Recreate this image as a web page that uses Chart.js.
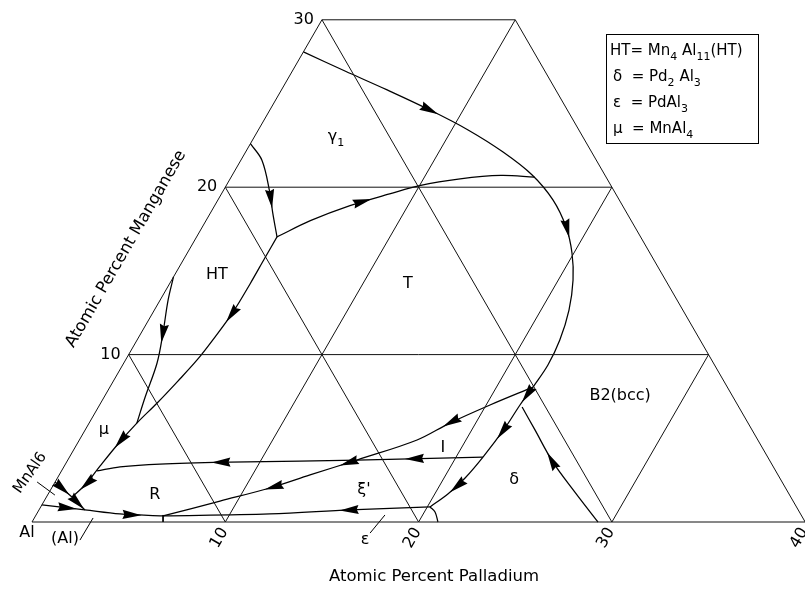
<!DOCTYPE html>
<html>
<head>
<meta charset="utf-8">
<script src="https://cdn.jsdelivr.net/npm/chart.js@4.4.1/dist/chart.umd.min.js"></script>
<style>
  html, body { margin: 0; padding: 0; background: #fff; }
  #wrap { width: 805px; height: 589px; }
</style>
</head>
<body>
<div id="wrap"><canvas id="chart" width="805" height="589"></canvas></div>
<script>
// all points are ternary [Pd, Mn] in at.%, Al is the balance
const pdTicks = [10, 20, 30, 40];
const mnTicks = [10, 20, 30];

// liquidus valleys, each listed in the direction its arrows point
const curveTop = [[0, 28.08], [2.72, 26.94], [5.47, 25.81], [8.28, 24.61], [10.85, 23.42], [13.32, 22.1], [15.51, 20.73], [17.33, 19.24], [18.82, 17.62], [19.9, 16.07], [20.76, 14.46], [21.45, 12.66], [21.87, 10.87], [22.0, 9.38], [21.89, 8.06]];
const curveGamma = [[0, 22.6], [1.1, 21.6], [2.45, 19.7], [3.2, 18.5], [4.16, 17.03]];
const curveHTup = [[4.16, 17.03], [5.4, 18.0], [7.0, 18.9], [8.7, 19.6], [10.0, 20.1], [11.9, 20.5], [13.9, 20.7], [15.7, 20.6]];
const curveHTdown = [[4.16, 17.03], [4.16, 15.77], [4.17, 14.22], [4.13, 12.54], [3.94, 11.05], [3.7, 9.68], [3.32, 8.36], [2.92, 7.11], [2.47, 5.91], [2.12, 4.66], [1.85, 3.35], [1.66, 2.27], [1.32, 1.49]];
const curveMu = [[0, 14.64], [0.41, 13.26], [1.13, 11.29], [1.72, 9.5], [2.12, 7.47], [2.47, 5.91]];
const curveMnAl6 = [[0, 2.39], [1.32, 1.49]];
const curveP1 = [[1.32, 1.49], [2.38, 0.72]];
const curveAl = [[0, 1.02], [2.38, 0.72]];
const curveE1 = [[2.38, 0.72], [4.31, 0.48], [6.6, 0.36]];
const curveR = [[14.96, 3.7], [12.04, 3.64], [8.45, 3.58], [4.89, 3.46], [2.91, 3.29], [1.84, 3.05]];
const curveDelta = [[21.89, 8.06], [21.75, 6.99], [21.66, 5.62], [21.39, 3.88], [21.09, 2.63], [20.68, 1.67], [20.14, 0.9]];
const curveI1 = [[21.89, 8.06], [20.2, 6.99], [18.66, 5.91], [17.47, 4.9], [14.96, 3.7]];
const curveI2 = [[14.96, 3.7], [12.98, 2.81], [11.29, 2.03], [9.1, 1.25], [6.6, 0.36]];
const curveH = [[21.39, 3.88], [14.96, 3.7]];
const curveEps = [[20.14, 0.9], [16.09, 0.72], [12.07, 0.48], [6.6, 0.36]];
const curveDE = [[20.14, 0.9], [20.55, 0.6], [21.0, 0]];
const curveB2 = [[29.28, 0], [27.19, 1.79], [25.16, 3.58], [23.27, 5.5], [21.92, 6.87]];
const eutecticMark = [[6.57, 0.42], [6.78, 0]];

// arrow tips, as fractional point index along each curve
const arrowsTop = [3.21, 8.42];
const arrowsGamma = [2.8];
const arrowsHTup = [2.55];
const arrowsHTdown = [3.39, 9.17, 11.43];
const arrowsMu = [2.33];
const arrowsMnAl6 = [0.75];
const arrowsP1 = [0.85];
const arrowsAl = [0.72];
const arrowsE1 = [1.5];
const arrowsR = [2.26];
const arrowsDelta = [0.85, 2.36, 4.88];
const arrowsI1 = [2.2];
const arrowsI2 = [0.36, 2.1];
const arrowsH = [0.58];
const arrowsEps = [1.125];
const arrowsB2 = [2.3];

// leader lines for labels outside their fields
const leaders = [
  [[17.82, -0.66], [18.05, 0.42]],
  [[3.02, -1.08], [3.04, 0.24]],
  [[-0.93, 2.39], [0.38, 1.61]]
];

// phase-field labels
const fieldText = [[['γ'], ['1', 1]], [['HT']], [['T']], [['μ']], [['R']], [["ξ'"]], [['δ']], [['I']], [['B2(bcc)']], [['ε']], [['(Al)']]];
const fieldAt = [[4.17, 23.12], [2.13, 14.87], [12.28, 14.34], [0.91, 5.62], [5.49, 1.73], [16.16, 2.03], [23.63, 2.63], [18.99, 4.54], [26.6, 7.65], [17.71, -0.96], [2.16, -0.9]];

const legendRows = [
  [['HT= Mn'], ['4', 1], [' Al'], ['11', 1], ['(HT)']],
  [['δ  = Pd'], ['2', 1], [' Al'], ['3', 1]],
  [['ε  = PdAl'], ['3', 1]],
  [['μ  = MnAl'], ['4', 1]]
];

const S3 = Math.sqrt(3) / 2;
const toXY = ([pd, mn]) => ({ x: pd + mn / 2, y: mn * S3 });

const frame = [
  [[0, 0], [40, 0]], [[0, 0], [0, 30]], [[0, 30], [10, 30]], [[10, 30], [40, 0]],
  [[0, 10], [30, 10]], [[0, 20], [20, 20]],
  [[10, 0], [10, 30]], [[20, 0], [20, 20]], [[30, 0], [30, 10]],
  [[10, 0], [0, 10]], [[20, 0], [0, 20]], [[30, 0], [0, 30]]
];

const curves = [curveTop, curveGamma, curveHTup, curveHTdown, curveMu, curveMnAl6, curveP1, curveAl, curveE1,
  curveR, curveDelta, curveI1, curveI2, curveH, curveEps, curveDE, curveB2];
const curveArrows = [arrowsTop, arrowsGamma, arrowsHTup, arrowsHTdown, arrowsMu, arrowsMnAl6, arrowsP1, arrowsAl, arrowsE1,
  arrowsR, arrowsDelta, arrowsI1, arrowsI2, arrowsH, arrowsEps, [], arrowsB2];

const datasets = [];
frame.forEach(seg => datasets.push({ data: seg.map(toXY), borderColor: '#111', borderWidth: 1, tension: 0 }));
leaders.concat([eutecticMark]).forEach(seg => datasets.push({ data: seg.map(toXY), borderColor: '#000', borderWidth: 1, tension: 0 }));
const curveStart = datasets.length;
curves.forEach(c => datasets.push({ data: c.map(toXY), borderColor: '#000', borderWidth: 1.25, tension: c.length > 2 ? 0.35 : 0 }));
datasets.forEach(d => { d.showLine = true; d.pointRadius = 0; d.pointHoverRadius = 0; d.clip = false; d.fill = false; });

const FONT = '"DejaVu Sans", sans-serif';

function drawRich(ctx, parts, x, y, size, align) {
  const sub = Math.round(size * 0.7);
  let w = 0;
  parts.forEach(p => { ctx.font = (p[1] ? sub : size) + 'px ' + FONT; w += ctx.measureText(p[0]).width; });
  let cx = align === 'left' ? x : x - w / 2;
  ctx.textAlign = 'left';
  ctx.textBaseline = 'alphabetic';
  parts.forEach(p => {
    ctx.font = (p[1] ? sub : size) + 'px ' + FONT;
    ctx.fillText(p[0], cx, y + (p[1] ? size * 0.32 : 0));
    cx += ctx.measureText(p[0]).width;
  });
}

function bezier(p0, p1, t) {
  const c1x = p0.cp2x ?? p0.x, c1y = p0.cp2y ?? p0.y;
  const c2x = p1.cp1x ?? p1.x, c2y = p1.cp1y ?? p1.y;
  const u = 1 - t;
  const x = u * u * u * p0.x + 3 * u * u * t * c1x + 3 * u * t * t * c2x + t * t * t * p1.x;
  const y = u * u * u * p0.y + 3 * u * u * t * c1y + 3 * u * t * t * c2y + t * t * t * p1.y;
  let dx = 3 * u * u * (c1x - p0.x) + 6 * u * t * (c2x - c1x) + 3 * t * t * (p1.x - c2x);
  let dy = 3 * u * u * (c1y - p0.y) + 6 * u * t * (c2y - c1y) + 3 * t * t * (p1.y - c2y);
  if (Math.hypot(dx, dy) < 1e-6) { dx = p1.x - p0.x; dy = p1.y - p0.y; }
  return { x, y, dx, dy };
}

const ternaryPlugin = {
  id: 'ternary',
  afterDatasetsDraw(chart) {
    const ctx = chart.ctx;
    ctx.save();
    ctx.fillStyle = '#000';
    curveArrows.forEach((list, ci) => {
      const pts = chart.getDatasetMeta(curveStart + ci).data;
      list.forEach(s => {
        const i = Math.min(Math.floor(s), pts.length - 2);
        const b = bezier(pts[i], pts[i + 1], s - i);
        const len = Math.hypot(b.dx, b.dy);
        const ux = b.dx / len, uy = b.dy / len;
        const L = 19, W = 4.6;
        ctx.beginPath();
        ctx.moveTo(b.x, b.y);
        ctx.lineTo(b.x - L * ux - W * uy, b.y - L * uy + W * ux);
        ctx.lineTo(b.x - L * 0.9 * ux, b.y - L * 0.9 * uy);
        ctx.lineTo(b.x - L * ux + W * uy, b.y - L * uy - W * ux);
        ctx.closePath();
        ctx.fill();
      });
    });
    ctx.restore();
  },
  afterDraw(chart) {
    const ctx = chart.ctx;
    const sx = chart.scales.x, sy = chart.scales.y;
    const px = p => { const q = toXY(p); return [sx.getPixelForValue(q.x), sy.getPixelForValue(q.y)]; };
    ctx.save();
    ctx.fillStyle = '#000';

    // field labels
    fieldText.forEach((parts, k) => {
      const [x, y] = px(fieldAt[k]);
      drawRich(ctx, parts, x, y + 6, 16, 'center');
    });

    // Mn ticks on the left edge
    ctx.font = '16px ' + FONT;
    ctx.textAlign = 'right';
    ctx.textBaseline = 'middle';
    mnTicks.forEach(m => {
      const [x, y] = px([0, m]);
      ctx.fillText(String(m), x - 8, y);
    });
    // Pd ticks along the base, turned like the Pd lines
    ctx.textAlign = 'center';
    pdTicks.forEach(p => {
      const [x, y] = px([p, 0]);
      ctx.save();
      ctx.translate(x - 6, y + 16);
      ctx.rotate(-Math.PI / 3);
      ctx.fillText(String(p), 0, 0);
      ctx.restore();
    });
    const [ax, ay] = px([0, 0]);
    ctx.fillText('Al', ax - 5, ay + 11);

    // MnAl6 label
    const [mx, my] = px([-1.56, 2.93]);
    ctx.save();
    ctx.translate(mx, my);
    ctx.rotate(-55 * Math.PI / 180);
    ctx.font = '15px ' + FONT;
    ctx.fillText('MnAl6', 0, 0);
    ctx.restore();

    // axis titles
    ctx.font = '16.5px ' + FONT;
    const [tx, ty] = px([22.44, -3.29]);
    ctx.fillText('Atomic Percent Palladium', tx, ty);
    const [lx, ly] = px([-3.29, 16.31]);
    ctx.save();
    ctx.translate(lx, ly);
    ctx.rotate(-Math.PI / 3);
    ctx.fillText('Atomic Percent Manganese', 0, 0);
    ctx.restore();

    // key box
    const ca = chart.chartArea;
    const bx = ca.left + 606, by = ca.top + 34;
    ctx.strokeStyle = '#000';
    ctx.lineWidth = 1;
    ctx.strokeRect(bx + 0.5, by + 0.5, 152, 109);
    legendRows.forEach((row, r) => {
      drawRich(ctx, row, bx + (r === 0 ? 4 : 7), by + 21 + r * 26, 15, 'left');
    });
    ctx.restore();
  }
};

new Chart(document.getElementById('chart'), {
  type: 'scatter',
  data: { datasets },
  options: {
    responsive: false,
    animation: false,
    events: [],
    layout: { padding: 0 },
    plugins: { legend: { display: false }, tooltip: { enabled: false }, title: { display: false } },
    scales: {
      x: { type: 'linear', display: false, min: -32 / 19.33, max: (805 - 32) / 19.33 },
      y: { type: 'linear', display: false, min: (522 - 589) / 19.33, max: 522 / 19.33 }
    }
  },
  plugins: [ternaryPlugin]
});
</script>
</body>
</html>
